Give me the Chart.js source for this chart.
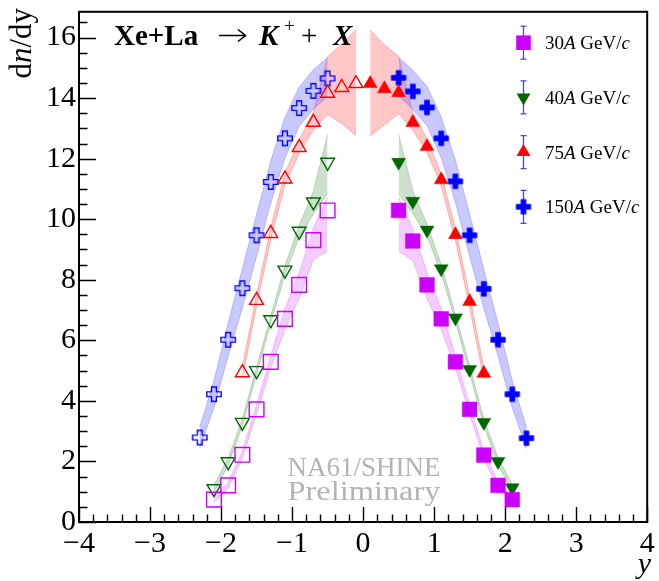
<!DOCTYPE html>
<html><head><meta charset="utf-8">
<script src="https://cdn.jsdelivr.net/npm/chart.js@4/dist/chart.umd.min.js"></script>
<style>html,body{margin:0;padding:0;background:#fff}canvas{display:block}
#warm{position:absolute;left:-1000px;top:0;font-family:"Liberation Serif";}
</style>
</head><body>
<span id="warm">Xe+La <i>K</i> <b>X</b> <b><i>K</i></b> 0123456789 Preliminary</span>
<canvas id="c" width="659" height="581"></canvas>
<script>
// ---- axis ticks ----
const xTicks = [-4,-3,-2,-1,0,1,2,3,4];
const yTicks = [0,2,4,6,8,10,12,14,16];

// ---- 30A GeV/c (magenta squares) ----
const y30R = [0.5,0.7,0.9,1.1,1.3,1.5,1.7,1.9,2.1];
const v30R = [10.29,9.28,7.83,6.71,5.29,3.72,2.21,1.21,0.74];
const y30L = [-0.5,-0.7,-0.9,-1.1,-1.3,-1.5,-1.7,-1.9,-2.1];
const v30L = [10.29,9.31,7.83,6.71,5.29,3.72,2.22,1.21,0.74];
const sUp30 = [0.45,0.4,0.4,0.35,0.2,0.15,0.12,0.1,0.1];
const sDn30 = [1.35,0.65,0.45,0.35,0.2,0.15,0.12,0.1,0.1];

// ---- 40A GeV/c (green down triangles) ----
const y40R = [0.5,0.7,0.9,1.1,1.3,1.5,1.7,1.9,2.1];
const v40R = [11.88,10.59,9.64,8.36,6.74,5.04,3.29,2.00,1.13];
const y40L = [-0.5,-0.7,-0.9,-1.1,-1.3,-1.5,-1.7,-1.9,-2.1];
const v40L = [11.88,10.57,9.60,8.32,6.68,5.00,3.29,1.99,1.10];
const sUp40 = [0.93,0.35,0.2,0.15,0.12,0.12,0.12,0.12,0.12];
const sDn40 = [1.04,0.4,0.2,0.15,0.12,0.12,0.12,0.12,0.12];

// ---- 75A GeV/c (red triangles) ----
const y75R = [0.1,0.3,0.5,0.7,0.9,1.1,1.3,1.5,1.7];
const v75R = [14.48,14.31,14.18,13.19,12.40,11.30,9.49,7.28,4.91];
const y75L = [-0.1,-0.3,-0.5,-0.7,-0.9,-1.1,-1.3,-1.5,-1.7];
const v75L = [14.48,14.35,14.16,13.20,12.37,11.33,9.53,7.32,4.93];
const sUp75 = [1.77,1.45,1.2,0.35,0.25,0.2,0.2,0.2,0.2];
const sDn75 = [1.72,1.2,0.7,0.25,0.2,0.2,0.2,0.2,0.2];

// ---- 150A GeV/c (blue crosses) ----
const y150R = [0.5,0.7,0.9,1.1,1.3,1.5,1.7,1.9,2.1,2.3];
const v150R = [14.67,14.22,13.69,12.67,11.25,9.47,7.70,6.02,4.22,2.77];
const y150L = [-0.5,-0.7,-0.9,-1.1,-1.3,-1.5,-1.7,-1.9,-2.1,-2.3];
const v150L = [14.65,14.24,13.67,12.67,11.23,9.47,7.72,6.02,4.22,2.79];
const sUp150 = [0.68,0.7,0.7,0.7,0.7,0.7,0.65,0.55,0.45,0.35];
const sDn150 = [0.6,0.6,0.6,0.65,0.7,0.7,0.65,0.55,0.45,0.35];

const legendLabels = ['30','40','75','150'];

// ---- colours ----
const C30 = '#cc00ff', C40 = '#006600', C75 = '#ff0000', C150 = '#0000ff';
const B30 = 'rgba(204,0,255,0.2)', B40 = 'rgba(0,100,0,0.2)', B75 = 'rgba(255,0,0,0.22)', B150 = 'rgba(100,100,255,0.35)';

function makeCross(filled){
  const c = document.createElement('canvas');
  const S = 18; c.width = S; c.height = S;
  const g = c.getContext('2d');
  const m = S/2, L = 7.2, t = 2.4;
  g.beginPath();
  g.moveTo(m-t,m-L); g.lineTo(m+t,m-L); g.lineTo(m+t,m-t); g.lineTo(m+L,m-t);
  g.lineTo(m+L,m+t); g.lineTo(m+t,m+t); g.lineTo(m+t,m+L); g.lineTo(m-t,m+L);
  g.lineTo(m-t,m+t); g.lineTo(m-L,m+t); g.lineTo(m-L,m-t); g.lineTo(m-t,m-t);
  g.closePath();
  if (filled){ g.fillStyle = C150; g.fill(); g.strokeStyle=C150; g.lineWidth=0.8; g.stroke(); }
  else { g.strokeStyle = C150; g.lineWidth = 1.4; g.stroke(); }
  return c;
}
const crossFull = makeCross(true), crossOpen = makeCross(false);

function pts(xs, vs){ return xs.map((x,i)=>({x:x, y:vs[i]})); }
function band(xs, vs, up, dn, color){
  return [
    {type:'line', data: xs.map((x,i)=>({x:x, y:vs[i]+up[i]})), borderColor: color, borderWidth: 1,
     pointRadius: 0, fill: '+1', backgroundColor: color, order: 10, tension: 0},
    {type:'line', data: xs.map((x,i)=>({x:x, y:vs[i]-dn[i]})), borderColor: color, borderWidth: 1,
     pointRadius: 0, fill: false, order: 10, tension: 0}
  ];
}
function markers(xs, vs, style, r, color, filled, rot){
  return {type:'scatter', data: pts(xs, vs), pointStyle: style, pointRadius: r,
    pointBackgroundColor: filled ? color : 'rgba(0,0,0,0)', pointBorderColor: color,
    pointBorderWidth: filled ? 0.5 : 1.4, pointRotation: rot || 0, order: 0, showLine: false};
}

const datasets = [
  ...band(y150R, v150R, sUp150, sDn150, B150),
  ...band(y150L, v150L, sUp150, sDn150, B150),
  ...band(y75R, v75R, sUp75, sDn75, B75),
  ...band(y75L, v75L, sUp75, sDn75, B75),
  ...band(y40R, v40R, sUp40, sDn40, B40),
  ...band(y40L, v40L, sUp40, sDn40, B40),
  ...band(y30R, v30R, sUp30, sDn30, B30),
  ...band(y30L, v30L, sUp30, sDn30, B30),
  markers(y30R, v30R, 'rect', 10.4, C30, true),
  markers(y30L, v30L, 'rect', 10.4, C30, false),
  markers(y40R, v40R, 'triangle', 8, C40, true, 180),
  markers(y40L, v40L, 'triangle', 8, C40, false, 180),
  markers(y75R, v75R, 'triangle', 8, C75, true),
  markers(y75L, v75L, 'triangle', 8, C75, false),
  markers(y150R, v150R, crossFull, 9, C150, true),
  markers(y150L, v150L, crossOpen, 9, C150, false)
];

const SERIF = '"Liberation Serif", "Times New Roman", Times, serif';
function fmt(v){ return v < 0 ? '\u2212' + Math.abs(v) : String(v); }

function drawPieces(ctx, pieces, x, y){
  let cx = x;
  for (const p of pieces){
    ctx.font = p.f;
    ctx.fillText(p.t, cx, y + (p.dy||0));
    cx += ctx.measureText(p.t).width;
  }
  return cx;
}
function piecesWidth(ctx, pieces){
  let w = 0;
  for (const p of pieces){ ctx.font = p.f; w += ctx.measureText(p.t).width; }
  return w;
}
function drawLegendMarker(ctx, kind, x, y){
  ctx.save();
  if (kind === 0){ ctx.fillStyle = C30; ctx.fillRect(x-7.3, y-7.3, 14.6, 14.6); }
  else if (kind === 1 || kind === 2){
    const r = 8, col = kind===1 ? C40 : C75, s = kind===1 ? -1 : 1;
    ctx.fillStyle = col; ctx.beginPath();
    ctx.moveTo(x, y - s*r);
    ctx.lineTo(x + r*Math.sin(2*Math.PI/3), y - s*r*Math.cos(2*Math.PI/3));
    ctx.lineTo(x - r*Math.sin(2*Math.PI/3), y - s*r*Math.cos(2*Math.PI/3));
    ctx.closePath(); ctx.fill();
  } else {
    ctx.drawImage(crossFull, x - crossFull.width/2, y - crossFull.height/2);
  }
  ctx.restore();
}

const rootPlugin = {
  id: 'rootDecor',
  afterDraw(chart){
    const {ctx, chartArea: a, scales} = chart;
    const xs = scales.x, ys = scales.y;
    ctx.save();
    // frame
    ctx.strokeStyle = '#000'; ctx.lineWidth = 2;
    ctx.strokeRect(a.left, a.top, a.right - a.left, a.bottom - a.top);
    // ticks (inward)
    ctx.lineWidth = 1.4;
    ctx.beginPath();
    for (let k = 0; k <= 40; k++){
      const v = xTicks[0] + k * 0.2;
      const px = Math.round(xs.getPixelForValue(v)) + 0.5;
      const len = (k % 5 === 0) ? 15 : 7.5;
      ctx.moveTo(px, a.bottom); ctx.lineTo(px, a.bottom - len);
    }
    for (let k = 0; k <= 33; k++){
      const v = k * 0.5;
      if (v > ys.max) break;
      const py = Math.round(ys.getPixelForValue(v)) + 0.5;
      const len = (k % 4 === 0) ? 17 : 8.5;
      ctx.moveTo(a.left, py); ctx.lineTo(a.left + len, py);
    }
    ctx.stroke();

    ctx.fillStyle = '#000';
    ctx.textBaseline = 'alphabetic';
    ctx.textAlign = 'left';
    // title
    drawPieces(ctx, [{t:'Xe+La', f:'bold 29px ' + SERIF}], 114, 45);
    // arrow
    ctx.strokeStyle = '#000'; ctx.lineWidth = 1.6;
    ctx.beginPath();
    ctx.moveTo(219, 35.5); ctx.lineTo(245, 35.5);
    ctx.moveTo(238, 29.5); ctx.lineTo(245.5, 35.5); ctx.lineTo(238, 41.5);
    ctx.stroke();
    drawPieces(ctx, [{t:'K', f:'italic bold 29px ' + SERIF}], 259, 45);
    drawPieces(ctx, [{t:'+', f:'19px ' + SERIF}], 284, 32);
    drawPieces(ctx, [{t:'+', f:'29px ' + SERIF}], 301, 45);
    drawPieces(ctx, [{t:'X', f:'italic bold 29px ' + SERIF}], 333, 45);

    // legend
    const legY = [42.7, 97.4, 152.1, 206.8];
    for (let i = 0; i < 4; i++){
      const lx = 523, ly = legY[i];
      ctx.strokeStyle = '#4a4ad0'; ctx.lineWidth = 1.3;
      ctx.beginPath();
      ctx.moveTo(lx + 0.5, ly - 16.5); ctx.lineTo(lx + 0.5, ly + 16.5);
      ctx.moveTo(lx - 2.5, ly - 16.5); ctx.lineTo(lx + 3.5, ly - 16.5);
      ctx.moveTo(lx - 2.5, ly + 16.5); ctx.lineTo(lx + 3.5, ly + 16.5);
      ctx.stroke();
      drawLegendMarker(ctx, i, lx + 0.5, ly);
      ctx.fillStyle = '#000';
      drawPieces(ctx, [
        {t: legendLabels[i], f:'19px ' + SERIF},
        {t:'A', f:'italic 19px ' + SERIF},
        {t:' GeV/', f:'19px ' + SERIF},
        {t:'c', f:'italic 19px ' + SERIF}
      ], 545, ly + 6.5);
    }

    // y-axis title (rotated)
    const yt = [{t:'d', f:'31px ' + SERIF},{t:'n', f:'italic 31px ' + SERIF},{t:'/dy', f:'31px ' + SERIF}];
    const w = piecesWidth(ctx, yt);
    ctx.save();
    ctx.translate(31, 8);
    ctx.rotate(-Math.PI/2);
    drawPieces(ctx, yt, -w, 0);
    ctx.restore();

    // x-axis title
    ctx.font = 'italic 30px ' + SERIF;
    ctx.textAlign = 'right';
    ctx.fillText('y', 651, 573);

    // watermark
    ctx.fillStyle = '#b4b4b4';
    ctx.textAlign = 'center';
    ctx.font = '27px ' + SERIF;
    ctx.fillText('NA61/SHINE', 364, 476);
    ctx.font = '28px ' + SERIF;
    const pw = ctx.measureText('Preliminary').width;
    ctx.save();
    ctx.translate(364, 500);
    ctx.scale(153 / pw, 1);
    ctx.fillText('Preliminary', 0, 0);
    ctx.restore();

    ctx.restore();
  }
};

function build(){
  new Chart(document.getElementById('c'), {
    type: 'scatter',
    data: { datasets },
    options: {
      responsive: false,
      animation: false,
      events: [],
      layout: { padding: { top: 9, right: 8, left: 0, bottom: 0 } },
      plugins: {
        legend: { display: false },
        tooltip: { enabled: false },
        filler: { drawTime: 'beforeDatasetsDraw' }
      },
      scales: {
        x: {
          type: 'linear', min: xTicks[0], max: xTicks[xTicks.length-1],
          grid: { display: false, drawTicks: false, tickLength: 0 },
          border: { display: false },
          afterBuildTicks: s => { s.ticks = xTicks.map(v => ({value: v})); },
          afterFit: s => { s.height = 59; s.paddingLeft = 0; s.paddingRight = 0; },
          ticks: { autoSkip: false, maxRotation: 0, padding: 4, color: '#000',
                   font: { family: SERIF, size: 30 }, callback: v => fmt(v) }
        },
        y: {
          type: 'linear', min: 0, max: 16.85,
          grid: { display: false, drawTicks: false, tickLength: 0 },
          border: { display: false },
          afterBuildTicks: s => { s.ticks = yTicks.map(v => ({value: v})); },
          afterFit: s => { s.width = 79; s.paddingTop = 0; s.paddingBottom = 0; },
          ticks: { autoSkip: false, padding: 3, color: '#000',
                   font: { family: SERIF, size: 30 }, callback: v => fmt(v) }
        }
      }
    },
    plugins: [rootPlugin]
  });
}
const fontLoads = ['30px "Liberation Serif"','bold 30px "Liberation Serif"','italic 30px "Liberation Serif"','italic bold 30px "Liberation Serif"']
  .map(f => document.fonts.load(f).catch(() => null));
Promise.all(fontLoads).then(build, build);
</script>
</body></html>
